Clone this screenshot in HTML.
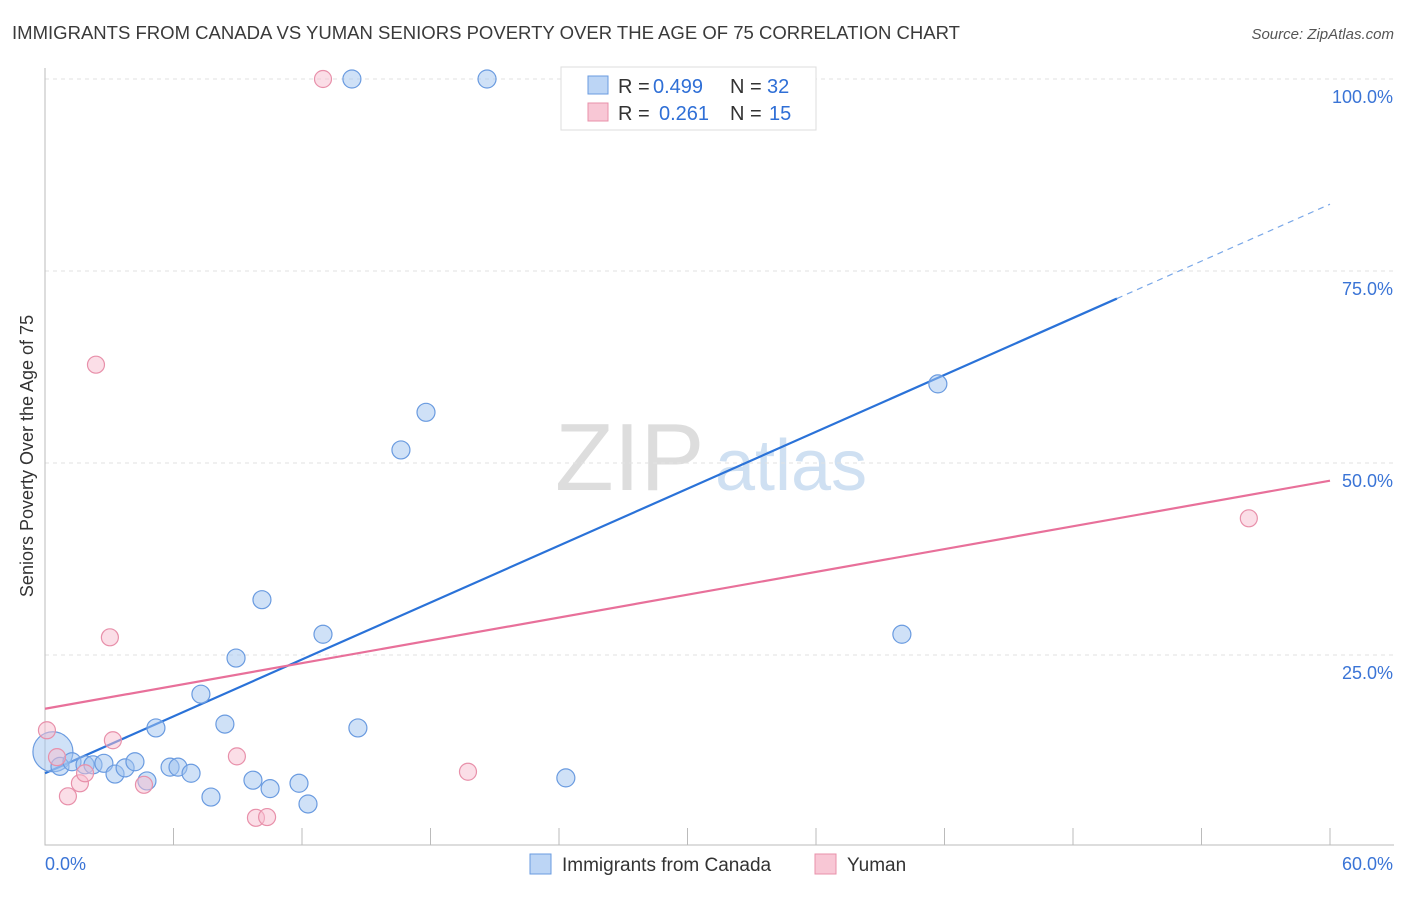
<!DOCTYPE html>
<html><head><meta charset="utf-8"><style>
body{margin:0;background:#fff;font-family:"Liberation Sans",sans-serif}
svg text{font-family:"Liberation Sans",sans-serif}
</style></head><body>
<svg id="chart" width="1406" height="892" xmlns="http://www.w3.org/2000/svg">
<text x="12" y="39" font-size="18" fill="#3a3a3a" textLength="948" lengthAdjust="spacingAndGlyphs">IMMIGRANTS FROM CANADA VS YUMAN SENIORS POVERTY OVER THE AGE OF 75 CORRELATION CHART</text>
<text x="1394" y="39" font-size="15" fill="#555" text-anchor="end" font-style="italic">Source: ZipAtlas.com</text>
<g><text x="555" y="490" font-size="96" fill="#ddd" font-family="Liberation Serif">ZIP</text><text x="715" y="490" font-size="72" fill="#cfe0f2">atlas</text></g>
<text transform="translate(33,456) rotate(-90)" font-size="18" fill="#333" text-anchor="middle">Seniors Poverty Over the Age of 75</text>
<g id="grid"></g><g id="axes"></g><g id="lines"></g><g id="points"></g>
<g>
<rect x="561" y="67" width="255" height="63" fill="#fff" stroke="#ddd"/>
<rect x="588" y="76" width="20" height="18" fill="#bcd5f5" stroke="#6a9be0"/>
<text x="618" y="93" font-size="20" fill="#333">R =</text>
<text x="653" y="93" font-size="20" fill="#2f6fd6">0.499</text>
<text x="730" y="93" font-size="20" fill="#333">N =</text>
<text x="767" y="93" font-size="20" fill="#2f6fd6">32</text>
<rect x="588" y="103" width="20" height="18" fill="#f8c7d5" stroke="#e890aa"/>
<text x="618" y="120" font-size="20" fill="#333">R =</text>
<text x="659" y="120" font-size="20" fill="#2f6fd6">0.261</text>
<text x="730" y="120" font-size="20" fill="#333">N =</text>
<text x="769" y="120" font-size="20" fill="#2f6fd6">15</text>
</g>
<g>
<rect x="530" y="854" width="21" height="20" fill="#bcd5f5" stroke="#6a9be0"/>
<text x="562" y="871" font-size="19" fill="#333">Immigrants from Canada</text>
<rect x="815" y="854" width="21" height="20" fill="#f8c7d5" stroke="#e890aa"/>
<text x="847" y="871" font-size="19" fill="#333">Yuman</text>
</g>
</svg>
<script>
const blueX=[0.37,0.70,1.26,1.87,2.24,2.75,3.27,3.74,4.20,4.76,5.18,5.84,6.21,6.82,7.28,7.75,8.40,8.92,9.71,10.13,10.51,11.86,12.28,12.98,14.33,14.61,16.62,17.79,20.64,24.32,40.01,41.69];
const blueY=[12.4,10.5,11.1,10.7,10.7,10.9,9.5,10.3,11.1,8.6,15.5,10.4,10.4,9.6,19.9,6.5,16.0,24.6,8.7,32.2,7.6,8.3,5.6,27.7,100,15.5,51.7,56.6,100,9.0,27.7,60.3];
const pinkX=[0.09,0.56,1.07,1.63,1.87,2.38,3.03,3.17,4.62,8.96,9.85,10.37,12.98,19.75,56.21];
const pinkY=[15.2,11.7,6.6,8.3,9.6,62.8,27.3,13.9,8.1,11.8,3.8,3.9,100,9.8,42.8];
const blueFit=[9.6,1.235];
const pinkFit=[18.0,0.495];
const yTicks=[25,50,75,100];
const yTickLabels=["25.0%","50.0%","75.0%","100.0%"];
const xTicks=[0,6,12,18,24,30,36,42,48,54,60];
const NS="http://www.w3.org/2000/svg";
const sx=v=>45+v/60*1285, sy=v=>847-v*7.68;
function mk(t,a,p){const e=document.createElementNS(NS,t);for(const k in a)e.setAttribute(k,a[k]);p.appendChild(e);return e;}
const grid=document.getElementById('grid'),axes=document.getElementById('axes'),lines=document.getElementById('lines'),pts=document.getElementById('points');
yTicks.forEach((v,i)=>{
 const l=mk('line',{x1:45,x2:1394,y1:sy(v),y2:sy(v),stroke:'#e2e2e2','stroke-dasharray':'4,4'},grid);
 
 
 const t=mk('text',{x:1393,y:sy(v)+24,'font-size':18,fill:'#3a74d6','text-anchor':'end'},axes);
 t.textContent=yTickLabels[i];
 
 
});
const ax=mk('path',{d:'M45,68V845H1394',fill:'none',stroke:'#bbb'},axes);


xTicks.forEach(v=>{
 const t=mk('line',{x1:sx(v),x2:sx(v),y1:828,y2:845,stroke:'#bbb'},axes);
 
 
});
const x0=mk('text',{x:45,y:870,'font-size':18,fill:'#3a74d6'},axes);x0.textContent='0.0%';


const x1=mk('text',{x:1393,y:870,'font-size':18,fill:'#3a74d6','text-anchor':'end'},axes);x1.textContent='60.0%';


blueX.forEach((x,i)=>{
 const c=mk('circle',{cx:sx(x),cy:sy(blueY[i]),r:i===0?20:9,fill:'rgba(160,196,240,0.5)',stroke:'#6a9be0','stroke-width':1.2},pts);
 
 
});
pinkX.forEach((x,i)=>{
 const c=mk('circle',{cx:sx(x),cy:sy(pinkY[i]),r:8.5,fill:'rgba(248,190,208,0.5)',stroke:'#e890aa','stroke-width':1.2},pts);
 
 
});
const bEnd=50.05;
const bl=mk('line',{x1:sx(0),y1:sy(blueFit[0]),x2:sx(bEnd),y2:sy(blueFit[0]+blueFit[1]*bEnd),stroke:'#2a72d8','stroke-width':2.2},lines);


const bd=mk('line',{x1:sx(bEnd),y1:sy(blueFit[0]+blueFit[1]*bEnd),x2:sx(60),y2:sy(blueFit[0]+blueFit[1]*60),stroke:'#7aa8e8','stroke-width':1.2,'stroke-dasharray':'6,5'},lines);


const pl=mk('line',{x1:sx(0),y1:sy(pinkFit[0]),x2:sx(60),y2:sy(pinkFit[0]+pinkFit[1]*60),stroke:'#e8709a','stroke-width':2.2},lines);


</script>
</body></html>
